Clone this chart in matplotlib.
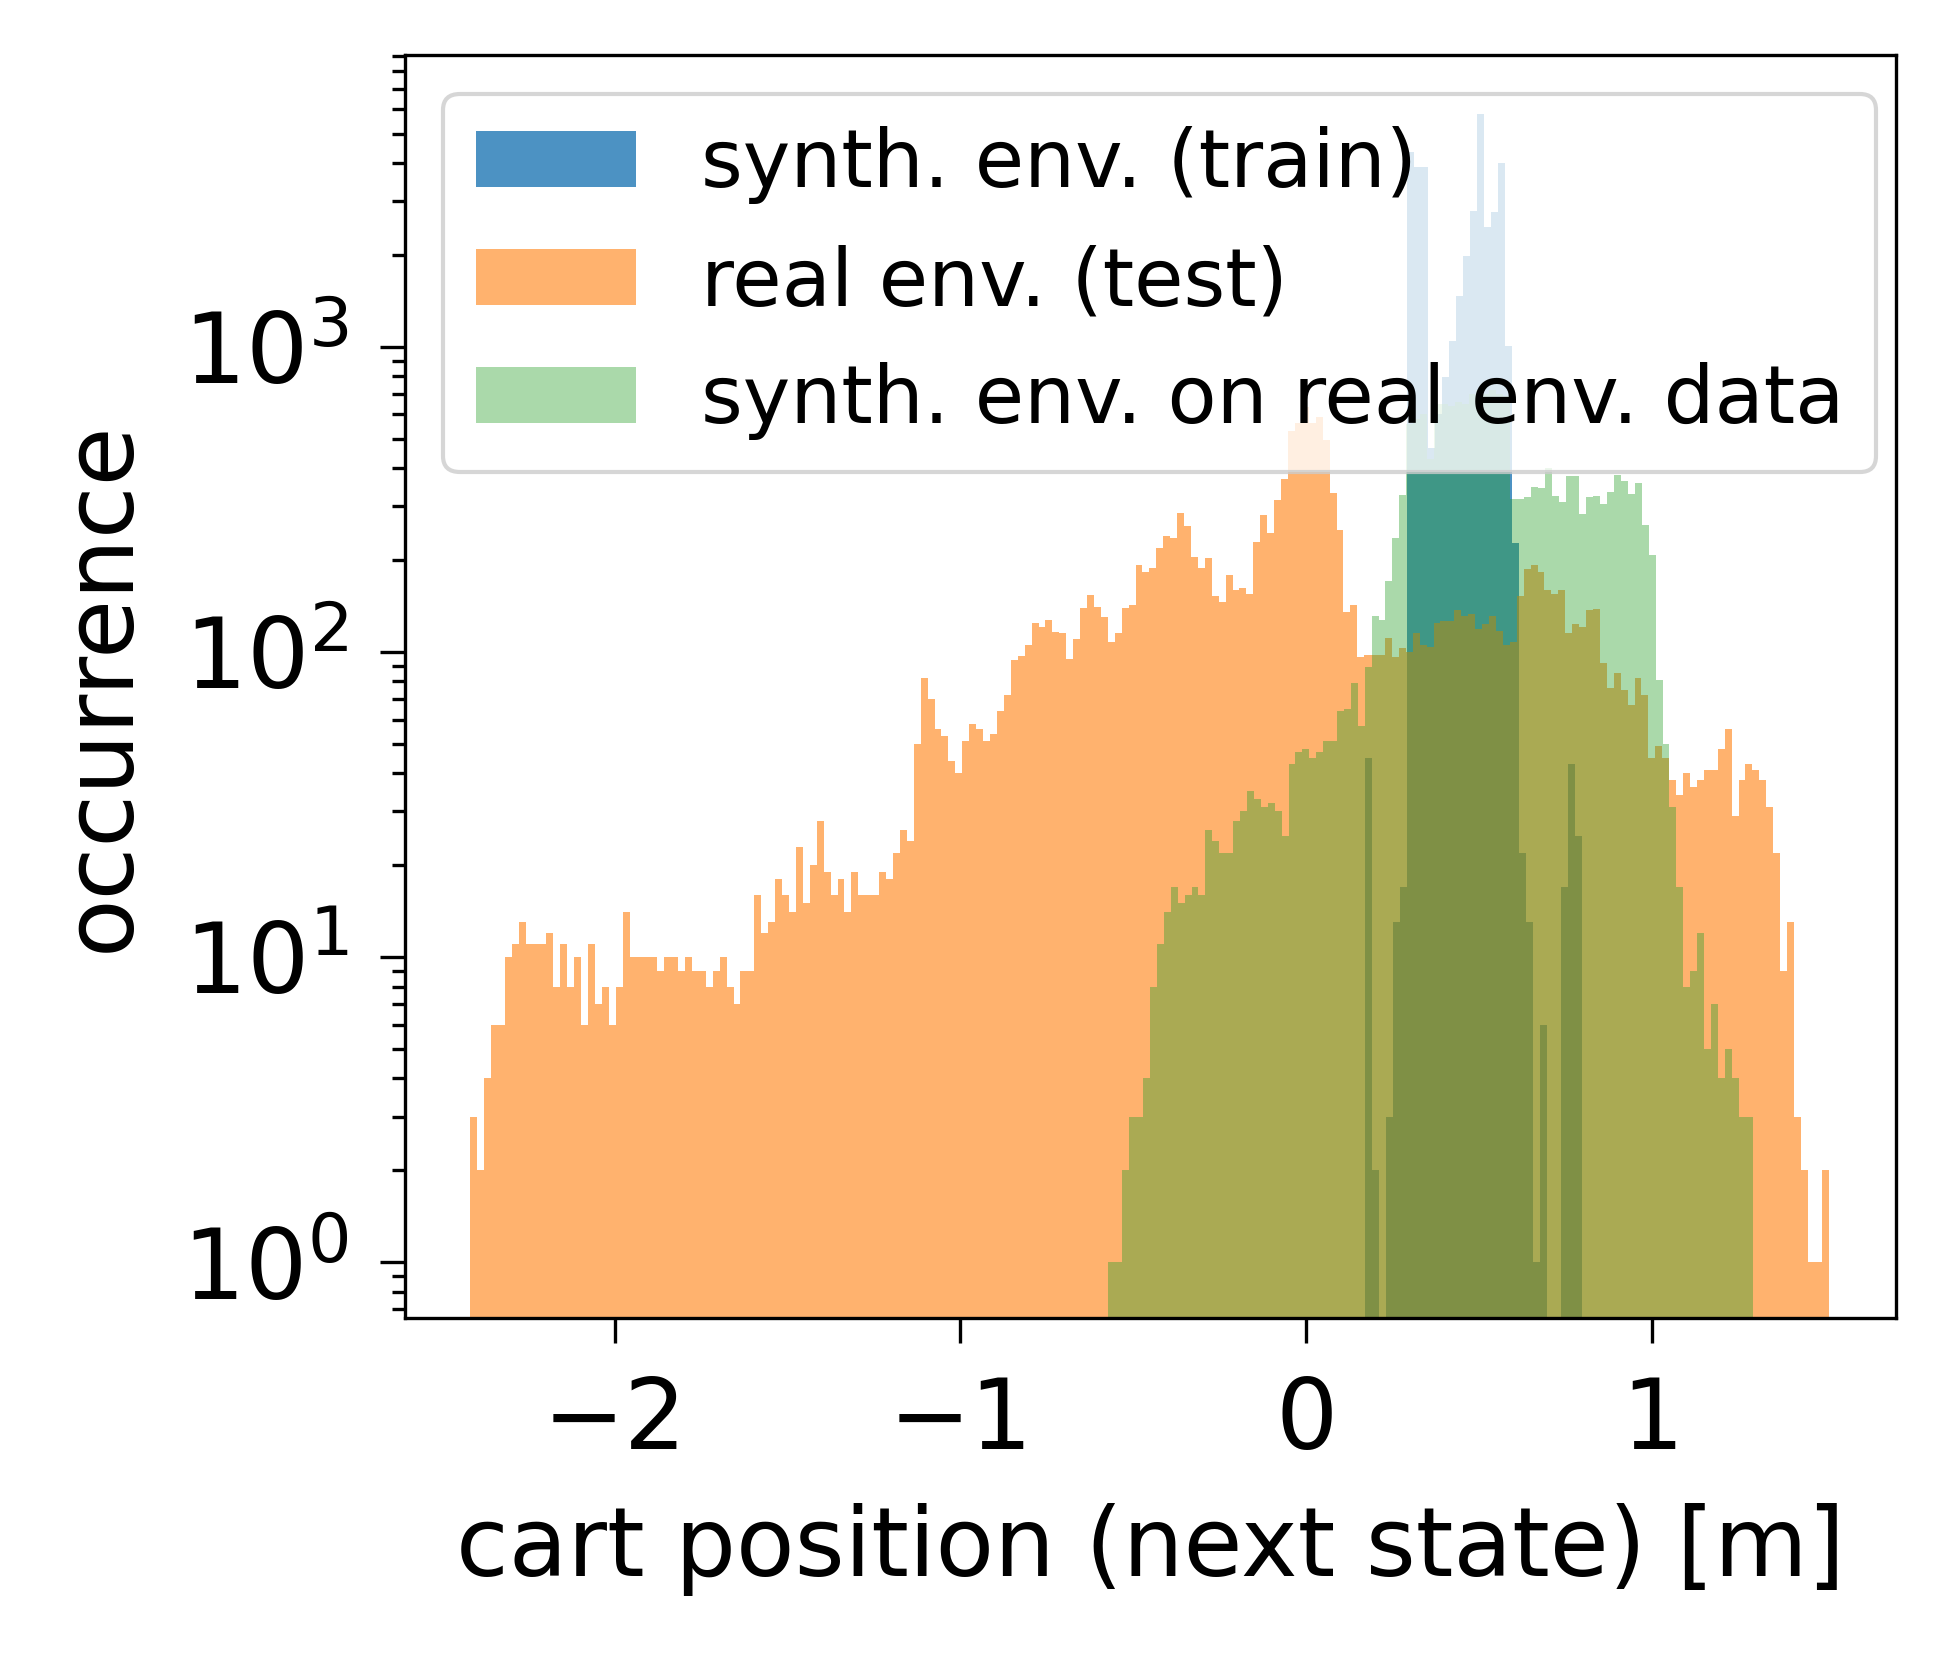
import numpy as np
import matplotlib
matplotlib.use("Agg")
import matplotlib.pyplot as plt

# bin counts, left to right
blue_counts = [45, 2, 0, 3, 13, 17, 4365, 3877, 3897, 465, 600, 794, 1048, 1472, 1986,
               2796, 5798, 2465, 2775, 3997, 1007, 228, 22, 13, 1, 6, 0, 0, 17, 43, 25]
blue_range = (0.170, 0.797)

orange_counts = [
    3, 2, 4, 6, 6, 10, 11, 13, 11, 11, 11, 12, 8, 11, 8, 10, 6, 11, 7, 8,
    6, 8, 14, 10, 10, 10, 10, 9, 10, 10, 9, 10, 9, 9, 8, 9, 10, 8, 7, 9, 9,
    16, 12, 13, 18, 16, 14, 23, 15, 20, 28, 19, 16, 18, 14, 19, 16, 16, 16, 19, 18,
    22, 26, 24, 50, 82, 70, 56, 53, 44, 40, 51, 58, 56, 51, 54, 64, 72, 94, 97, 105, 124,
    121, 127, 116, 115, 95, 110, 139, 154, 140, 130, 108, 115, 139, 142, 193, 183, 188,
    219, 240, 236, 286, 258, 204, 189, 203, 153, 146, 179, 160, 162, 155, 229, 282, 245,
    314, 368,
    531, 562, 637, 562, 588, 495,
    331, 251, 135, 142, 96, 98, 98, 98, 111, 96, 103,
    100, 115, 105, 104, 124, 126, 126, 137, 131, 133, 119, 123, 131, 117, 105, 108,
    153, 187, 192, 183, 159, 155, 159, 115, 123, 121, 137, 138, 92, 76, 85, 75, 67, 82,
    72, 45, 49, 45, 38, 34, 40, 36, 38, 41, 41, 48, 56, 29, 38, 43, 41, 38, 31, 22,
    9, 13, 3, 2, 1, 1, 2]
orange_range = (-2.418, 1.511)

green_counts = [
    1, 1, 2, 3, 3, 4, 8, 11, 14, 17, 15, 16, 17, 16, 26, 24, 22, 22, 28, 30,
    35, 33, 31, 32, 30, 25, 43, 47, 48, 45,
    47, 51, 51, 64, 65, 79, 57, 89, 131, 127, 171, 236, 327,
    560, 580, 600, 430, 650, 650, 640, 660, 650, 700, 720, 700, 720, 700, 690,
    317, 317, 323, 347, 344, 400, 325, 309, 378, 378, 283, 323, 325, 305, 335, 380,
    362, 330, 359,
    261, 207, 81, 50, 31, 17, 8, 9, 12, 5, 7, 4, 5, 4, 3, 3]
green_range = (-0.572, 1.291)

labels = ["synth. env. (train)", "real env. (test)", "synth. env. on real env. data"]

fig = plt.figure(figsize=(6.513, 5.51), dpi=300)
ax = fig.add_axes([0.2072, 0.2027, 0.763, 0.764])

series = [
    (blue_counts, blue_range, "C0", 0.8),
    (orange_counts, orange_range, "C1", 0.6),
    (green_counts, green_range, "C2", 0.4),
]
for (counts, rng, col, a), lab in zip(series, labels):
    edges = np.linspace(rng[0], rng[1], len(counts) + 1)
    ax.hist(edges[:-1], bins=edges, weights=counts, histtype="stepfilled",
            color=col, alpha=a, label=lab, log=True, linewidth=0)

ax.set_xlim(-2.607, 1.705)
ax.set_ylim(0.656, 9040)
ax.set_xticks([-2, -1, 0, 1])
ax.tick_params(axis="both", which="major", labelsize=23.5, length=6, width=0.8, pad=7.5)
ax.tick_params(axis="both", which="minor", length=3.2, width=0.8)
ax.set_xlabel("cart position (next state) [m]", fontsize=23, labelpad=8)
ax.set_ylabel("occurrence", fontsize=23, labelpad=8)
ax.legend(loc="upper left", fontsize=19.3, borderaxespad=0.48)

fig.savefig("out.png", dpi=300)
